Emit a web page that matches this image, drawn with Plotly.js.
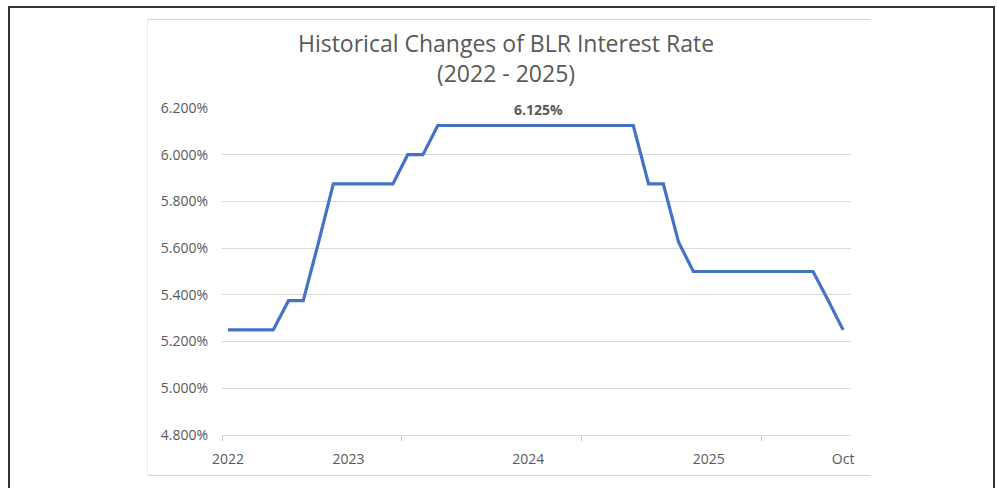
<!DOCTYPE html>
<html>
<head>
<meta charset="utf-8">
<script src="https://cdn.plot.ly/plotly-3.0.1.min.js"></script>
<style>
  html, body { margin: 0; padding: 0; background: #ffffff; width: 997px; height: 488px; overflow: hidden; }
  #outer { position: absolute; left: 8px; top: 6px; width: 983px; height: 500px;
           border-left: 2px solid #333; border-top: 2px solid #333; border-right: 2px solid #333; }
  #box { position: absolute; left: 147px; top: 19px; width: 722px; height: 455px;
         border-top: 1px solid #d0d0d0; border-bottom: 1px solid #d0d0d0; border-left: 1px solid #ececec; }
  #chart { position: absolute; left: 0; top: 0; width: 997px; height: 488px; }
</style>
</head>
<body>
<div id="outer"></div>
<div id="box"></div>
<div id="chart"></div>
<script>
// Monthly BLR values (May 2022 - Oct 2025)
const dates = [
  "2022-05-01","2022-06-01","2022-07-01","2022-08-01","2022-09-01","2022-10-01","2022-11-01","2022-12-01",
  "2023-01-01","2023-02-01","2023-03-01","2023-04-01","2023-05-01","2023-06-01","2023-07-01","2023-08-01",
  "2023-09-01","2023-10-01","2023-11-01","2023-12-01","2024-01-01","2024-02-01","2024-03-01","2024-04-01",
  "2024-05-01","2024-06-01","2024-07-01","2024-08-01","2024-09-01","2024-10-01","2024-11-01","2024-12-01",
  "2025-01-01","2025-02-01","2025-03-01","2025-04-01","2025-05-01","2025-06-01","2025-07-01","2025-08-01",
  "2025-09-01","2025-10-01"
];
const rates = [
  5.25, 5.25, 5.25, 5.25, 5.375, 5.375, 5.625, 5.875,
  5.875, 5.875, 5.875, 5.875, 6.0, 6.0, 6.125, 6.125,
  6.125, 6.125, 6.125, 6.125, 6.125, 6.125, 6.125, 6.125,
  6.125, 6.125, 6.125, 6.125, 5.875, 5.875, 5.625, 5.5,
  5.5, 5.5, 5.5, 5.5, 5.5, 5.5, 5.5, 5.5,
  5.375, 5.25
];
const xTickVals = ["2022-05-01","2023-01-01","2024-01-01","2025-01-01","2025-10-01"];
const xTickText = ["2022","2023","2024","2025","Oct"];
const xTickMarks = ["2022-04-19","2023-04-19","2024-04-17","2025-04-18"];
const peakLabel = "6.125%";
const peakIndex = 20;

const gray = "#595959";
const tickFont = { family: "Open Sans, sans-serif", size: 14, color: gray };

const trace = {
  type: "scatter",
  mode: "lines",
  x: dates,
  y: rates,
  line: { color: "#4472C4", width: 3.2 },
  hoverinfo: "x+y"
};

const layout = {
  width: 997,
  height: 488,
  margin: { l: 222, r: 146, t: 108, b: 53 },
  paper_bgcolor: "rgba(0,0,0,0)",
  plot_bgcolor: "rgba(0,0,0,0)",
  showlegend: false,
  title: {
    text: "Historical Changes of BLR Interest Rate<br>(2022 - 2025)",
    x: 506 / 997, xref: "container", xanchor: "center",
    y: 1 - 52 / 488, yref: "container", yanchor: "top",
    font: { family: "Open Sans, sans-serif", size: 23, color: gray }
  },
  xaxis: {
    type: "date",
    range: ["2022-04-19", "2025-10-17"],
    tickmode: "array",
    tickvals: xTickVals,
    ticktext: xTickText,
    ticks: "",
    showgrid: false,
    zeroline: false,
    showline: true,
    linecolor: "#d9d9d9",
    linewidth: 1,
    tickfont: tickFont,
    ticklabelstandoff: 11,
    minor: {
      tickmode: "array",
      tickvals: xTickMarks,
      ticks: "outside",
      ticklen: 5,
      tickwidth: 1,
      tickcolor: "#c8c8c8",
      showgrid: false
    }
  },
  yaxis: {
    range: [4.8, 6.2],
    tickmode: "linear",
    tick0: 4.8,
    dtick: 0.2,
    tickformat: ".3f",
    ticksuffix: "%",
    showgrid: true,
    gridcolor: "#d9d9d9",
    gridwidth: 1,
    zeroline: false,
    showline: false,
    ticks: "",
    tickfont: tickFont,
    ticklabelstandoff: 13
  },
  annotations: [{
    x: dates[peakIndex],
    y: rates[peakIndex],
    xref: "x", yref: "y",
    text: "<b>" + peakLabel + "</b>",
    showarrow: false,
    xshift: 10,
    yshift: 16,
    bgcolor: "#ffffff",
    borderpad: 3,
    font: { family: "Open Sans, sans-serif", size: 14, color: gray }
  }]
};

Plotly.newPlot("chart", [trace], layout, { displayModeBar: false, staticPlot: true });
</script>
</body>
</html>
